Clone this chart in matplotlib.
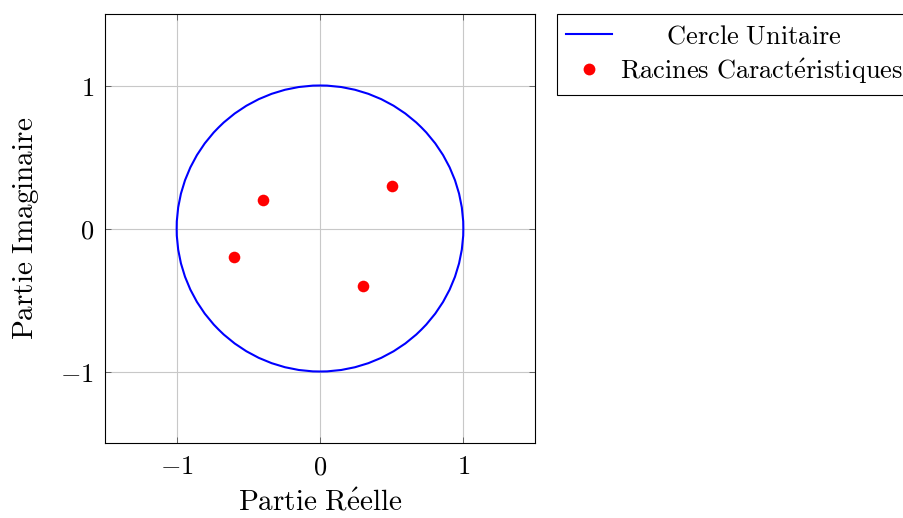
import matplotlib
matplotlib.use("Agg")
import matplotlib.pyplot as plt
from matplotlib.patches import Circle
from matplotlib.lines import Line2D

plt.rcParams['mathtext.fontset'] = 'cm'
plt.rcParams['font.family'] = ['DejaVu Serif']

# Data
root_re = [0.5, -0.4, -0.6, 0.3]
root_im = [0.3, 0.2, -0.2, -0.4]
circle_center = (0.0, 0.0)
circle_radius = 1.0
ticks = [-1, 0, 1]
tick_labels = [r'$-1$', r'$0$', r'$1$']
xlabel = r'$\mathrm{Partie\ R\acute{e}elle}$'
ylabel = r'$\mathrm{Partie\ Imaginaire}$'
label_circle = r'$\mathrm{\quad\quad Cercle\ Unitaire}$'
label_roots = r'$\mathrm{Racines\ Caract\acute{e}ristiques}$'

fig = plt.figure(figsize=(9.04, 5.18), dpi=100)
ax = fig.add_axes([105/904, 75/518, 430/904, 429/518])

ax.grid(True, color='#c8c8c8', linewidth=0.8, zorder=0)
ax.set_axisbelow(True)

circ = Circle(circle_center, circle_radius, fill=False, edgecolor='blue', linewidth=1.5, zorder=2)
ax.add_patch(circ)
ax.scatter(root_re, root_im, s=70, color='red', zorder=3, linewidths=0)

ax.set_xlim(-1.5, 1.5)
ax.set_ylim(-1.5, 1.5)
ax.set_xticks(ticks)
ax.set_yticks(ticks)
ax.set_xticklabels(tick_labels)
ax.set_yticklabels(tick_labels)
ax.tick_params(direction='in', length=4, width=0.6, top=True, right=True,
               labelsize=19, colors='#555555', labelcolor='black', pad=8)
for s in ax.spines.values():
    s.set_linewidth(0.8)
ax.set_xlabel(xlabel, fontsize=21, labelpad=7)
ax.set_ylabel(ylabel, fontsize=21, labelpad=14)

handles = [Line2D([], [], color='blue', linewidth=1.5),
           Line2D([], [], color='red', marker='o', linestyle='none', markersize=8.5, markeredgewidth=0)]
leg = fig.legend(handles, [label_circle, label_roots], loc='upper left',
                 bbox_to_anchor=(557/904, 1 - 14/518), fontsize=19, frameon=True,
                 fancybox=False, edgecolor='black', framealpha=1, borderpad=0.35,
                 handlelength=1.75, handletextpad=0.3, labelspacing=0.3, borderaxespad=0)
leg.get_frame().set_linewidth(0.8)

fig.savefig('out.png', dpi=100)
